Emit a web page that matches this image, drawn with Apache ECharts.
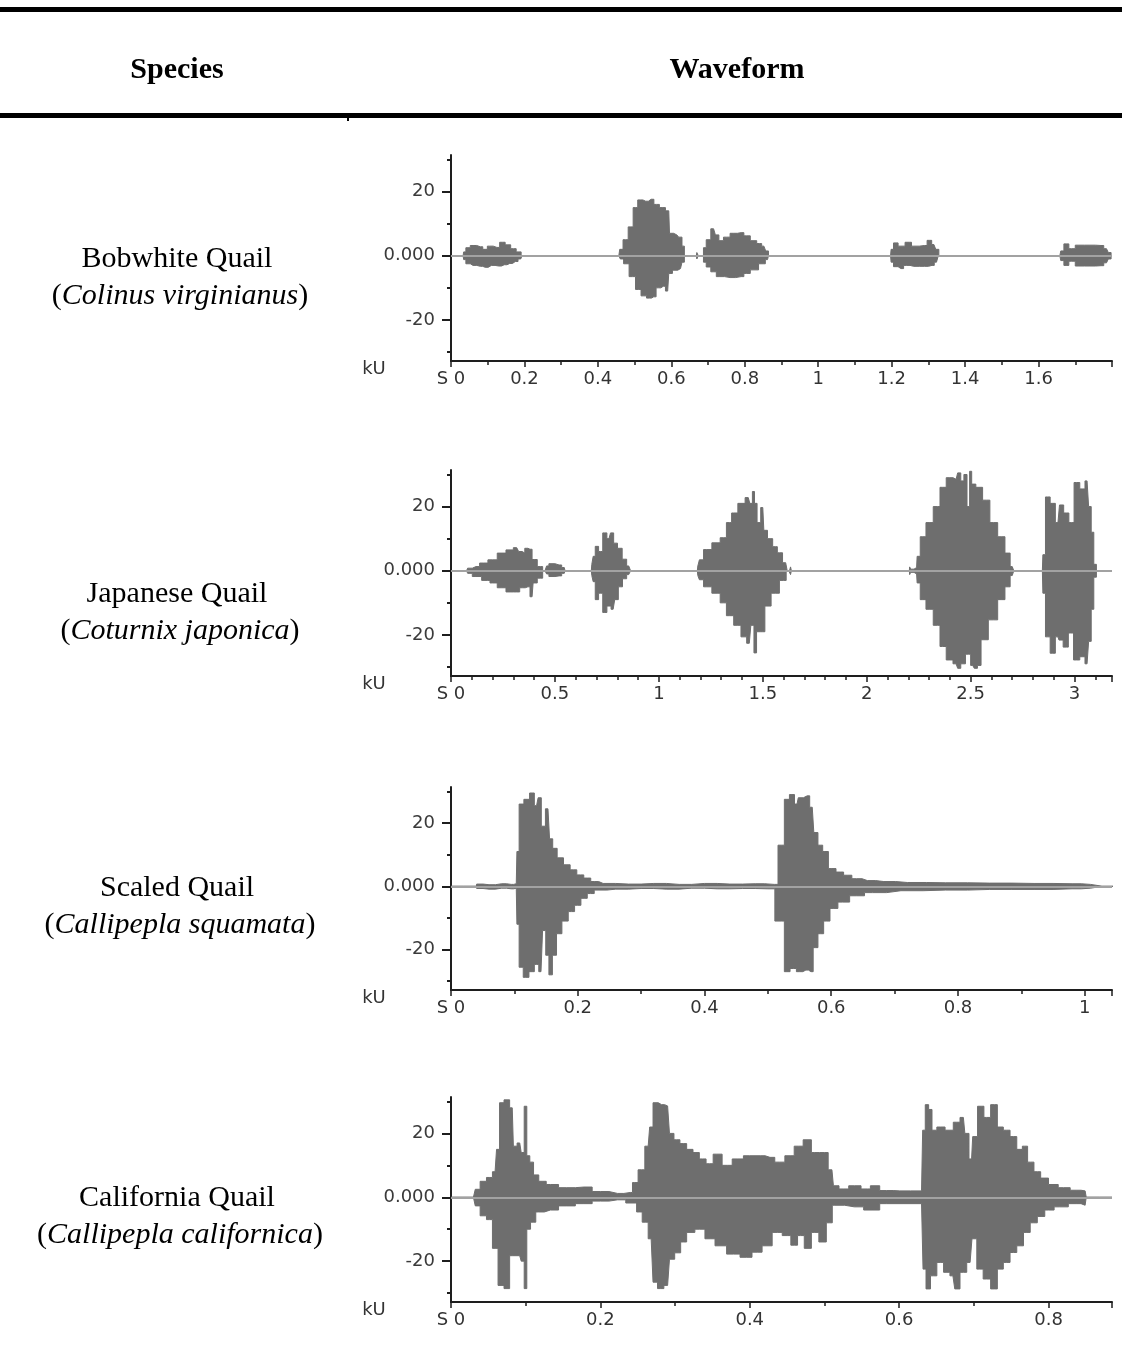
<!DOCTYPE html>
<html>
<head>
<meta charset="utf-8">
<script src="https://cdn.jsdelivr.net/npm/echarts@6/dist/echarts.min.js"></script>
<style>
  html, body { margin: 0; padding: 0; background: #fff; }
  #main { width: 1122px; height: 1372px; }
</style>
</head>
<body>
<div id="main"></div>
<script>
// waveform envelopes, [seconds, kU]
var bobTop = [[0,0],[0.033,0],[0.036,1.2],[0.045,2.5],[0.06,3.2],[0.08,2.8],[0.093,2],[0.105,3],[0.125,2.6],[0.14,4.2],[0.155,3.4],[0.17,2.2],[0.185,1.2],[0.197,0],
  [0.457,0],[0.462,2],[0.475,5],[0.49,9],[0.502,15],[0.515,17.4],[0.53,17],[0.545,17.6],[0.56,16],[0.575,15],[0.593,14],[0.597,7],[0.615,6.5],[0.625,5.8],[0.633,3],[0.638,0],
  [0.668,0],[0.671,1],[0.676,0],
  [0.685,0],[0.69,2.5],[0.70,5],[0.715,8.4],[0.725,6.5],[0.734,4.7],[0.75,5.8],[0.77,7],[0.79,7.2],[0.805,6.2],[0.825,4.7],[0.84,3.8],[0.852,3],[0.862,1.5],[0.867,0],
  [1.197,0],[1.20,2],[1.21,4],[1.225,3],[1.248,4.2],[1.26,3],[1.29,3.2],[1.303,4.8],[1.315,3.5],[1.325,2],[1.332,0],
  [1.658,0],[1.663,1.5],[1.675,3.7],[1.69,2.2],[1.71,3.3],[1.74,3.3],[1.77,3.2],[1.785,2.2],[1.795,1],[1.80,0]];
var bobBot = [[0,0],[0.033,0],[0.036,-1.2],[0.045,-2.5],[0.06,-3],[0.08,-3.3],[0.093,-3.6],[0.11,-3],[0.13,-3.2],[0.145,-2.8],[0.16,-2.4],[0.175,-1.8],[0.19,-1],[0.197,0],
  [0.457,0],[0.465,-1],[0.475,-2.5],[0.495,-6.5],[0.51,-10.5],[0.525,-12.5],[0.54,-13.2],[0.552,-12.8],[0.565,-10],[0.578,-9.5],[0.59,-11],[0.596,-5.5],[0.61,-4.5],[0.625,-4],[0.633,-2],[0.638,0],
  [0.668,0],[0.671,-1],[0.676,0],
  [0.685,0],[0.69,-2],[0.70,-3.5],[0.715,-5],[0.73,-6.5],[0.76,-6.8],[0.79,-6.5],[0.805,-5.5],[0.825,-4.4],[0.85,-2.5],[0.862,-1.2],[0.867,0],
  [1.197,0],[1.20,-2],[1.21,-3.4],[1.225,-4],[1.24,-3],[1.26,-3.3],[1.29,-3.3],[1.31,-3],[1.322,-2],[1.332,0],
  [1.658,0],[1.663,-1.5],[1.675,-3],[1.69,-1.7],[1.71,-3.2],[1.74,-3.2],[1.77,-3.1],[1.785,-2.2],[1.795,-1],[1.80,0]];

var japTop = [[0,0],[0.075,0],[0.085,0.8],[0.12,1.3],[0.155,2.4],[0.2,3.4],[0.245,5.5],[0.284,6.5],[0.316,7.2],[0.335,6],[0.35,5.5],[0.36,7],[0.38,6.7],[0.40,3.5],[0.43,1.3],[0.452,0],
  [0.458,0],[0.462,1.5],[0.48,2.2],[0.52,1.8],[0.545,1],[0.552,0],
  [0.675,0],[0.68,2],[0.688,4.5],[0.70,7.6],[0.72,6],[0.74,11.8],[0.76,10],[0.775,11.8],[0.79,8.6],[0.812,7],[0.835,3.6],[0.855,1.5],[0.873,0],
  [1.185,0],[1.19,1.5],[1.2,3.4],[1.23,6.6],[1.28,8.7],[1.31,10.3],[1.34,15],[1.36,18],[1.40,21],[1.43,22.8],[1.445,21],[1.455,24.7],[1.465,21],[1.48,15],[1.50,19.7],[1.51,12.6],[1.535,10],[1.56,7.5],[1.58,5.6],[1.61,2.5],[1.625,0],
  [1.632,0],[1.635,1.2],[1.64,0],
  [2.205,0],[2.208,1.2],[2.215,0.5],[2.24,1],[2.245,4.5],[2.27,10.6],[2.30,15],[2.34,20],[2.365,26],[2.40,29],[2.43,28.5],[2.445,30.5],[2.46,28],[2.475,30],[2.49,20],[2.50,31],[2.51,27],[2.54,26],[2.575,22],[2.61,15],[2.65,10.6],[2.68,5.5],[2.70,1.3],[2.715,0],
  [2.845,0],[2.85,5],[2.87,23],[2.895,21],[2.92,15],[2.935,20.5],[2.96,18],[2.985,15],[3.01,27.5],[3.04,25.5],[3.06,28],[3.075,20],[3.085,12],[3.10,2],[3.11,0],[3.18,0]];
var japBot = [[0,0],[0.075,0],[0.085,-0.8],[0.12,-1.8],[0.175,-3],[0.2,-3.8],[0.245,-5.3],[0.284,-6.6],[0.316,-6.6],[0.345,-5.3],[0.37,-5],[0.39,-8.1],[0.40,-3.8],[0.43,-2.3],[0.452,0],
  [0.458,0],[0.462,-1],[0.48,-1.8],[0.52,-1.6],[0.545,-0.8],[0.552,0],
  [0.675,0],[0.68,-1.5],[0.688,-3.4],[0.70,-9],[0.72,-7],[0.74,-13],[0.76,-11],[0.78,-12],[0.795,-9],[0.815,-5],[0.835,-2.5],[0.855,-1.2],[0.873,0],
  [1.185,0],[1.19,-1.5],[1.2,-2.8],[1.23,-5],[1.28,-7],[1.31,-10],[1.34,-14],[1.38,-17],[1.41,-20.6],[1.435,-22.6],[1.45,-17],[1.465,-25.6],[1.475,-19],[1.50,-19],[1.52,-11],[1.56,-7],[1.60,-3],[1.625,0],
  [1.632,0],[1.635,-1.2],[1.64,0],
  [2.205,0],[2.208,-1.2],[2.215,-0.5],[2.24,-1],[2.245,-3.8],[2.27,-9],[2.30,-12],[2.34,-17],[2.365,-23.6],[2.40,-27.8],[2.43,-29],[2.445,-30.4],[2.46,-29],[2.49,-26],[2.51,-29.5],[2.525,-30.4],[2.54,-29.5],[2.56,-21.5],[2.61,-15.3],[2.65,-9],[2.68,-5],[2.70,-1.5],[2.715,0],
  [2.845,0],[2.85,-7],[2.87,-20.6],[2.895,-25.7],[2.92,-20.6],[2.93,-21.6],[2.96,-23.8],[2.98,-19.4],[3.01,-27.8],[3.04,-26.8],[3.06,-29],[3.075,-22],[3.085,-12],[3.10,-2],[3.11,0],[3.18,0]];

var scaTop = [[0,0],[0.04,0],[0.041,0.7],[0.06,0.5],[0.08,0.8],[0.095,0.6],[0.103,0.8],
  [0.105,11],[0.11,26],[0.12,27.5],[0.128,29.5],[0.135,25.5],[0.14,28],[0.145,19],[0.153,24.5],[0.158,15],[0.163,12],[0.172,9],[0.183,6.8],[0.193,5.2],[0.204,3.6],[0.215,2.6],[0.226,1.5],[0.24,0.9],[0.28,0.7],[0.32,0.9],[0.36,0.6],[0.40,0.9],[0.44,0.7],[0.48,0.8],[0.51,0.6],
  [0.522,13],[0.53,27.5],[0.538,29],[0.546,26],[0.55,28],[0.562,28.6],[0.57,25],[0.575,17],[0.583,13],[0.59,11],[0.601,5.6],[0.614,4.5],[0.625,3.5],[0.64,2.4],[0.657,1.8],[0.683,1.5],[0.72,1.2],[0.78,1.1],[0.85,1],[0.92,0.9],[0.98,0.8],[1.009,0.6],[1.012,0],[1.045,0]];
var scaBot = [[0,0],[0.04,0],[0.041,-0.7],[0.06,-0.9],[0.08,-0.6],[0.095,-0.8],[0.103,-0.6],
  [0.105,-12],[0.11,-25.6],[0.118,-28.8],[0.128,-27],[0.135,-24.7],[0.142,-27],[0.147,-14],[0.152,-21.8],[0.157,-28],[0.163,-21.8],[0.17,-15],[0.18,-11],[0.19,-8],[0.2,-6],[0.21,-3.8],[0.22,-2.3],[0.232,-1.2],[0.26,-0.9],[0.30,-0.7],[0.34,-0.9],[0.38,-0.6],[0.42,-0.8],[0.46,-0.7],[0.50,-0.8],
  [0.522,-11],[0.53,-27],[0.54,-26],[0.55,-27],[0.56,-26.5],[0.568,-27],[0.575,-19.4],[0.583,-15],[0.593,-11],[0.603,-7],[0.618,-5],[0.64,-3],[0.665,-2],[0.71,-1.4],[0.78,-1.2],[0.85,-1],[0.92,-1],[0.98,-0.8],[1.009,-0.6],[1.012,0],[1.045,0]];

var calTop = [[0,0],[0.03,0],[0.035,2.5],[0.043,5],[0.052,6.2],[0.059,8],[0.063,15],[0.067,29.6],[0.075,30.5],[0.082,28],[0.085,16],[0.092,17],[0.096,14],[0.1,28.5],[0.103,13],[0.108,11],[0.113,7],[0.122,5],[0.133,4],[0.155,3],[0.178,3.2],[0.2,1.8],[0.223,1.2],[0.24,1.5],
  [0.246,4.6],[0.255,8.6],[0.264,16],[0.268,22],[0.273,29.6],[0.282,29],[0.29,28.6],[0.295,20],[0.302,18],[0.311,16.8],[0.32,15],[0.328,14],[0.337,12],[0.346,10.5],[0.356,13.5],[0.37,10],[0.383,12],[0.4,13],[0.414,13],[0.427,12.5],[0.44,11],[0.454,13],[0.465,16],[0.478,18],[0.487,14],[0.5,14],[0.51,8.6],
  [0.514,3.6],[0.525,2.6],[0.54,3.6],[0.558,2.6],[0.565,3.6],[0.583,2.1],[0.601,2],[0.63,2],
  [0.633,21],[0.637,29],[0.642,27.5],[0.646,21],[0.655,22],[0.668,21],[0.677,23.5],[0.686,25],[0.69,20],[0.697,12],[0.70,19],[0.71,28.5],[0.717,25],[0.728,29],[0.735,22],[0.744,21],[0.753,19],[0.762,15],[0.768,16],[0.776,11],[0.785,8],[0.794,6],[0.806,4],[0.82,3],[0.838,2.2],[0.849,2],[0.852,0],[0.885,0]];
var calBot = [[0,0],[0.03,0],[0.035,-2.7],[0.043,-5.8],[0.052,-7],[0.059,-16],[0.067,-27.6],[0.075,-28.6],[0.082,-18.3],[0.092,-18.3],[0.096,-20],[0.1,-28.6],[0.103,-10],[0.11,-7.8],[0.117,-4.6],[0.133,-4],[0.155,-2.7],[0.178,-2],[0.2,-1.2],[0.223,-0.8],[0.245,-1.8],
  [0.252,-4.6],[0.26,-7.8],[0.268,-13],[0.273,-26.6],[0.28,-28.6],[0.29,-27.6],[0.295,-19.4],[0.304,-17.4],[0.311,-14],[0.32,-11],[0.333,-10],[0.347,-13],[0.36,-15.2],[0.378,-17.8],[0.396,-18.8],[0.41,-17.2],[0.423,-15.2],[0.437,-11],[0.45,-12],[0.46,-15],[0.468,-12],[0.478,-16],[0.487,-11],[0.498,-14],[0.507,-8],
  [0.514,-2.5],[0.54,-3],[0.565,-4],[0.583,-2],[0.63,-2],
  [0.634,-22.5],[0.638,-28.7],[0.646,-24.6],[0.655,-20.4],[0.664,-23.5],[0.672,-24.6],[0.677,-28.7],[0.686,-23.5],[0.695,-20.4],[0.70,-13],[0.708,-22.5],[0.717,-25.6],[0.728,-28.7],[0.735,-22.5],[0.744,-20.4],[0.753,-17.3],[0.762,-15.2],[0.771,-11],[0.78,-8],[0.79,-6],[0.80,-4],[0.815,-3],[0.838,-2],[0.849,-2.5],[0.852,0],[0.885,0]];

// axis ticks / labels
var bobLabels = [0, 0.2, 0.4, 0.6, 0.8, 1, 1.2, 1.4, 1.6];
var bobMinor = [0.1, 0.3, 0.5, 0.7, 0.9, 1.1, 1.3, 1.5, 1.7];
var japLabels = [0, 0.5, 1, 1.5, 2, 2.5, 3];
var japMinor = [0.1, 0.2, 0.3, 0.4, 0.6, 0.7, 0.8, 0.9, 1.1, 1.2, 1.3, 1.4, 1.6, 1.7, 1.8, 1.9, 2.1, 2.2, 2.3, 2.4, 2.6, 2.7, 2.8, 2.9, 3.1];
var scaLabels = [0, 0.2, 0.4, 0.6, 0.8, 1];
var scaMinor = [0.1, 0.3, 0.5, 0.7, 0.9];
var calLabels = [0, 0.2, 0.4, 0.6, 0.8];
var calMinor = [0.1, 0.3, 0.5, 0.7];
var ampLabels = [-20, 0, 20];
var ampMinor = [-30, -10, 10, 30];

var commonNames = ["Bobwhite Quail", "Japanese Quail", "Scaled Quail", "California Quail"];
var latinNames = ["Colinus virginianus", "Coturnix japonica", "Callipepla squamata", "Callipepla californica"];

var panels = [
  { top: bobTop, bot: bobBot, labels: bobLabels, minor: bobMinor, xmax: 1.80, y: 155, h: 206, lbl: 259 },
  { top: japTop, bot: japBot, labels: japLabels, minor: japMinor, xmax: 3.18, y: 470, h: 206, lbl: 594 },
  { top: scaTop, bot: scaBot, labels: scaLabels, minor: scaMinor, xmax: 1.043, y: 787, h: 203, lbl: 888 },
  { top: calTop, bot: calBot, labels: calLabels, minor: calMinor, xmax: 0.885, y: 1097, h: 205, lbl: 1198 }
];

var FILL = "#6e6e6e";
var AXIS = "#1e1e1e";
var LABEL_FONT = "DejaVu Sans";
var SERIF = "Liberation Serif";

var chart = echarts.init(document.getElementById("main"), null, { renderer: "canvas" });

var grid = [], xAxis = [], yAxis = [], series = [], graphic = [];

// table rules and headers
graphic.push(
  { type: "rect", shape: { x: 0, y: 7, width: 1122, height: 5 }, style: { fill: "#000" } },
  { type: "rect", shape: { x: 0, y: 113, width: 1122, height: 5 }, style: { fill: "#000" } },
  { type: "rect", shape: { x: 347, y: 118, width: 2, height: 3 }, style: { fill: "#000" } },
  { type: "text", style: { text: "Species", x: 177, y: 70, fill: "#000", font: "bold 30px '" + SERIF + "'", textAlign: "center", textVerticalAlign: "middle" } },
  { type: "text", style: { text: "Waveform", x: 737, y: 70, fill: "#000", font: "bold 30px '" + SERIF + "'", textAlign: "center", textVerticalAlign: "middle" } }
);

panels.forEach(function (p, i) {
  grid.push({ left: 451, right: 10, top: p.y, height: p.h });

  xAxis.push({
    type: "value", gridIndex: i, min: 0, max: p.xmax, position: "bottom",
    axisLine: { show: true, onZero: false, lineStyle: { color: AXIS, width: 2 } },
    axisTick: { show: true, length: 6, customValues: p.labels.concat([p.xmax]), lineStyle: { color: AXIS, width: 1.5 } },
    axisLabel: {
      customValues: p.labels, margin: 9, color: "#333", fontFamily: LABEL_FONT, fontSize: 18,
      formatter: function (v) { return v === 0 ? "S 0" : String(v); }
    },
    splitLine: { show: false }
  });
  xAxis.push({
    type: "value", gridIndex: i, min: 0, max: p.xmax, position: "bottom",
    axisLine: { show: false, onZero: false },
    axisTick: { show: true, length: 4, customValues: p.minor, lineStyle: { color: AXIS, width: 1.5 } },
    axisLabel: { show: false },
    splitLine: { show: false }
  });

  yAxis.push({
    type: "value", gridIndex: i, min: -32.8, max: 31.4, position: "left",
    axisLine: { show: true, onZero: false, lineStyle: { color: AXIS, width: 2 } },
    axisTick: { show: true, length: 9, customValues: ampLabels, lineStyle: { color: AXIS, width: 2 } },
    axisLabel: {
      customValues: ampLabels, margin: 16, color: "#3a3a3a", fontFamily: LABEL_FONT, fontSize: 18,
      formatter: function (v) { return v === 0 ? "0.000" : String(v); }
    },
    splitLine: { show: false }
  });
  yAxis.push({
    type: "value", gridIndex: i, min: -32.8, max: 31.4, position: "left",
    axisLine: { show: false, onZero: false },
    axisTick: { show: true, length: 4, customValues: ampMinor, lineStyle: { color: AXIS, width: 2 } },
    axisLabel: { show: false },
    splitLine: { show: false }
  });

  var wave = {
    type: "line", xAxisIndex: 2 * i, yAxisIndex: 2 * i,
    step: "middle", symbol: "none", silent: true, animation: false,
    lineStyle: { color: FILL, width: 1 },
    areaStyle: { color: FILL, opacity: 1 }
  };
  series.push(Object.assign({}, wave, { data: p.top }));
  series.push(Object.assign({}, wave, {
    data: p.bot,
    markLine: {
      silent: true, symbol: ["none", "none"], animation: false,
      label: { show: false },
      lineStyle: { color: "#a2a2a2", width: 2, type: "solid" },
      data: [{ yAxis: 0 }]
    }
  }));

  // species cell
  graphic.push(
    { type: "text", style: { text: commonNames[i], x: 177, y: p.lbl, fill: "#000", font: "30px '" + SERIF + "'", textAlign: "center", textVerticalAlign: "middle" } },
    { type: "text", style: {
        text: "{n|(}{i|" + latinNames[i] + "}{n|)}", x: 180, y: p.lbl + 37, textAlign: "center", textVerticalAlign: "middle",
        rich: { n: { font: "30px '" + SERIF + "'", fill: "#000" }, i: { font: "italic 30px '" + SERIF + "'", fill: "#000" } }
    } },
    { type: "text", style: { text: "kU", x: 374, y: p.y + p.h + 8, fill: "#333", font: "18px '" + LABEL_FONT + "'", textAlign: "center", textVerticalAlign: "middle" } }
  );
});

chart.setOption({
  backgroundColor: "#fff",
  animation: false,
  grid: grid,
  xAxis: xAxis,
  yAxis: yAxis,
  series: series,
  graphic: graphic
});

window.onresize = chart.resize;
</script>
</body>
</html>
